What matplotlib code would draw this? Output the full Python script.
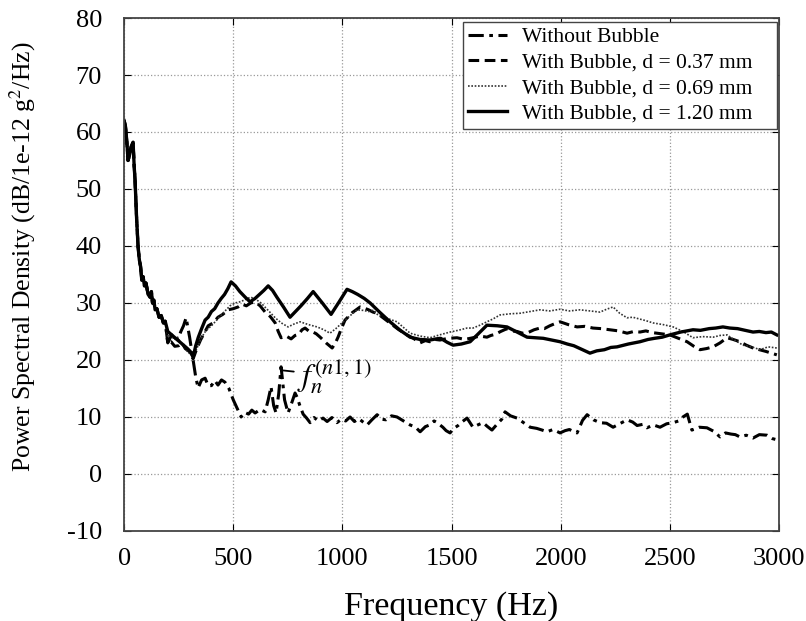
import numpy as np
import matplotlib.pyplot as plt

plt.rcParams['font.family'] = 'Liberation Serif'
plt.rcParams['mathtext.fontset'] = 'stix'
plt.rcParams['axes.unicode_minus'] = False

# shared low-frequency part (all curves start together)
f_start = [0, 6, 12, 18, 25, 33, 41, 46, 50, 57, 64, 70, 75, 81, 87, 93, 100, 110, 119, 125,
           130, 136, 142, 150, 160, 170, 180, 188]
p_start = [62, 61, 58.5, 55, 56, 57.5, 58.2, 54, 51.6, 45, 39.8, 37.5, 36.5, 34, 34.6, 33,
           33.5, 31.5, 31, 32, 30, 30.5, 28.8, 29, 27.5, 27.8, 26.5, 26.8]

# Without Bubble
f_wo = [200, 215, 230, 245, 260, 272, 284, 300, 316, 328, 339, 355, 371, 385, 400, 415, 430,
        446, 462, 480, 500, 518, 536, 553, 570, 585, 600, 623, 646, 660, 673, 685, 696, 708,
        719, 735, 751, 768, 783, 792, 805, 820, 836, 852, 870, 890, 911, 930, 952, 975, 995,
        1015, 1035, 1055, 1075, 1095, 1113, 1135, 1159, 1180, 1200, 1225, 1250, 1280, 1310,
        1335, 1356, 1380, 1400, 1420, 1434, 1460, 1475, 1493, 1510, 1530, 1550, 1571, 1598,
        1620, 1644, 1665, 1685, 1710, 1730, 1745, 1770, 1800, 1830, 1860, 1890, 1915, 1937,
        1965, 1997, 2020, 2040, 2060, 2075, 2100, 2121, 2150, 2180, 2210, 2240, 2270, 2304,
        2330, 2350, 2375, 2395, 2425, 2455, 2485, 2515, 2540, 2560, 2580, 2601, 2635, 2670,
        2700, 2730, 2755, 2780, 2800, 2821, 2850, 2881, 2910, 2945, 2970, 2990]
p_wo = [23, 24.2, 24.5, 23.5, 25, 26, 27.4, 24, 20, 17, 15.1, 16.5, 16.8, 15.5, 15.5, 16.4,
        15.6, 16.5, 16.1, 15, 13, 11.5, 10, 10.8, 10.5, 11.2, 10.7, 11.3, 10.9, 13, 15.3, 12,
        10.7, 14, 18.8, 13, 10.7, 12.5, 14.2, 13.5, 12, 10.5, 9.8, 9, 9.9, 9.3, 9.8, 9.2, 9.9,
        9, 9.6, 9.3, 10, 9.2, 9.7, 9.1, 8.6, 9.5, 10.4, 9.6, 9.5, 10.2, 10, 9.3, 8.6, 8.2, 7.4,
        8.3, 8.6, 9.3, 9, 8.2, 7.6, 7.2, 8, 8.5, 9.2, 9.8, 8.2, 8.6, 9, 8.3, 7.7, 8.8, 9.6,
        10.9, 10.2, 9.8, 9, 8.2, 8, 7.7, 7.4, 7.8, 7.2, 7.6, 7.8, 7.4, 7.2, 9.4, 10.4, 9.5, 9,
        8.9, 8.2, 8.8, 9.5, 9.1, 8.5, 8.7, 8.1, 8.6, 8.2, 8.8, 9, 9.3, 10, 10.5, 7.7, 8.2,
        8.1, 7.5, 6.5, 7.2, 7, 6.9, 6.5, 6.8, 6.3, 6.9, 6.8, 6.2, 6]

# With Bubble, d = 0.37 mm
f_037 = [200, 215, 232, 250, 265, 280, 298, 316, 333, 350, 368, 385, 408, 430, 452, 476, 500,
         522, 540, 560, 580, 600, 623, 646, 670, 692, 706, 719, 742, 765, 783, 800, 815, 829,
         845, 860, 880, 898, 925, 953, 968, 980, 995, 1012, 1045, 1081, 1100, 1120, 1140, 1159,
         1190, 1218, 1255, 1296, 1325, 1356, 1380, 1400, 1425, 1447, 1485, 1525, 1560, 1598,
         1630, 1662, 1680, 1700, 1725, 1754, 1775, 1800, 1825, 1850, 1878, 1905, 1925, 1950,
         1975, 1997, 2035, 2075, 2110, 2148, 2185, 2226, 2265, 2304, 2335, 2363, 2390, 2420,
         2460, 2500, 2540, 2579, 2610, 2638, 2668, 2698, 2730, 2762, 2790, 2821, 2850, 2881,
         2910, 2940, 2965, 2990]
p_037 = [23, 23.2, 22.4, 22.5, 23, 22, 21.5, 20.2, 22, 23.5, 24.8, 26, 26.5, 27.5, 28, 28.8, 29,
         29.3, 29.8, 29.5, 30, 30.2, 29.5, 28.4, 27.6, 26.5, 25, 23.9, 24.2, 23.7, 24.3, 24.5,
         25.3, 25.6, 25.1, 25, 24.6, 24, 23, 22.1, 23, 24, 25.5, 27, 28.3, 29.3, 29.1, 28.8,
         28.4, 28.2, 27.3, 26.5, 25.4, 24.4, 23.8, 23, 23.4, 23.2, 23.6, 23.5, 23.8, 23.9, 23.6,
         23.9, 24.2, 24, 24.3, 24.5, 25, 25.5, 25.1, 25, 24.7, 24.8, 25.3, 25.6, 25.5, 26,
         26.4, 26.7, 26.2, 25.8, 25.9, 25.6, 25.5, 25.3, 25.1, 24.7, 25, 24.9, 25.1, 24.8, 24.6,
         24.4, 23.8, 23.2, 22.4, 21.8, 22, 22.3, 23, 23.9, 23.6, 23.2, 22.6, 22.1, 21.8, 21.5,
         21.2, 20.9]

# With Bubble, d = 0.69 mm
f_069 = [200, 215, 230, 245, 260, 275, 290, 303, 316, 333, 350, 368, 385, 400, 417, 438, 460,
         485, 508, 530, 550, 565, 581, 605, 627, 660, 692, 720, 751, 778, 806, 845, 884, 915,
         943, 970, 998, 1030, 1067, 1095, 1120, 1140, 1160, 1205, 1250, 1280, 1310, 1355, 1401,
         1445, 1493, 1530, 1571, 1598, 1630, 1662, 1690, 1722, 1768, 1814, 1860, 1905, 1950,
         1997, 2040, 2088, 2135, 2180, 2210, 2240, 2270, 2304, 2330, 2360, 2390, 2423, 2470,
         2515, 2560, 2606, 2650, 2698, 2730, 2762, 2800, 2835, 2875, 2913, 2950, 2990]
p_069 = [24, 24.5, 23.5, 24, 23, 22.5, 21.5, 21, 20.5, 22, 23.5, 24.8, 25.5, 26, 26.7, 27.6,
         28.5, 29.5, 30, 30.2, 30.5, 30.8, 31, 30.6, 30, 28.7, 27.4, 26.5, 25.8, 26.3, 26.7,
         26.2, 25.8, 25.3, 24.7, 25.5, 26.5, 27.6, 28.8, 28.7, 28.5, 28.7, 28, 27.3, 26.7,
         25.7, 24.7, 24.2, 23.9, 24.4, 24.9, 25.2, 25.6, 25.6, 26.1, 26.7, 27.2, 27.9, 28.1,
         28.2, 28.5, 28.8, 28.6, 28.9, 28.6, 28.8, 28.6, 28.4, 28.9, 29.3, 28.2, 27.4, 27.5,
         27.2, 26.9, 26.5, 26.2, 25.8, 25, 23.9, 24.1, 24, 24.3, 24.4, 23.4, 22.6, 22.3, 21.8,
         22.3, 22.1]

# With Bubble, d = 1.20 mm
f_120 = [200, 215, 230, 245, 260, 275, 290, 303, 316, 328, 340, 355, 371, 385, 400, 415, 430,
         445, 460, 475, 490, 510, 530, 555, 577, 600, 620, 640, 660, 680, 700, 730, 760, 785,
         810, 840, 866, 908, 948, 985, 1021, 1045, 1070, 1100, 1127, 1170, 1218, 1265, 1310,
         1355, 1401, 1430, 1450, 1480, 1507, 1545, 1585, 1620, 1662, 1710, 1754, 1800, 1846,
         1920, 1997, 2030, 2060, 2100, 2134, 2165, 2200, 2230, 2258, 2310, 2363, 2400, 2430,
         2465, 2500, 2550, 2606, 2640, 2680, 2710, 2743, 2775, 2810, 2845, 2881, 2910, 2940,
         2965, 2990]
p_120 = [25, 24.5, 24, 23.5, 23, 22.5, 22, 21.5, 20.5, 22.5, 24, 25.5, 27, 27.5, 28.5, 29, 30,
         30.8, 31.5, 32.5, 33.7, 33, 32, 31, 30.2, 30.8, 31.5, 32.2, 33, 32.2, 31, 29.3, 27.5,
         28.5, 29.5, 30.8, 32, 30, 28, 30.2, 32.4, 32, 31.5, 30.8, 30, 28.4, 26.7, 25.2, 24,
         23.6, 23.5, 23.7, 23.8, 23.1, 22.6, 22.8, 23.2, 24.5, 26.1, 26, 25.8, 24.9, 24, 23.8,
         23.2, 22.8, 22.5, 21.8, 21.2, 21.6, 21.8, 22.2, 22.3, 22.8, 23.2, 23.6, 23.8, 24,
         24.4, 24.9, 25.3, 25.2, 25.5, 25.6, 25.8, 25.6, 25.5, 25.2, 24.9, 25, 24.8, 24.9, 24.4]

fig, ax = plt.subplots(figsize=(8.06, 6.21), dpi=100)
fig.subplots_adjust(left=0.154, right=0.9665, top=0.971, bottom=0.145)

k = 'black'
ax.plot(f_start + f_wo, p_start + p_wo, color=k, lw=2.2, linestyle=(0, (5, 1.8, 1.2, 1.8)),
        label='Without Bubble')
ax.plot(f_start + f_037, p_start + p_037, color=k, lw=2.2, linestyle=(0, (3.5, 1.8)),
        label='With Bubble, d = 0.37 mm')
ax.plot(f_start + f_069, p_start + p_069, color='#333333', lw=1.2, linestyle=(0, (1, 1)),
        label='With Bubble, d = 0.69 mm')
ax.plot(f_start + f_120, p_start + p_120, color=k, lw=2.4, linestyle='-',
        label='With Bubble, d = 1.20 mm')

ax.annotate(r'$f_n^{(n1,1)}$', xy=(719, 18.2), xytext=(790, 17.2),
            fontsize=23, va='center', ha='left',
            arrowprops=dict(arrowstyle='-', color=k, lw=1.3, shrinkA=0, shrinkB=0))

ax.set_xlim(0, 3000)
ax.set_ylim(-10, 80)
ax.set_xticks(np.arange(0, 3001, 500))
ax.set_yticks(np.arange(-10, 81, 10))
ax.grid(True, color='#999999', linestyle=':', lw=0.9)
ax.tick_params(direction='in', top=True, right=True, labelsize=19, length=5)
ax.tick_params(axis='x', pad=12)
ax.tick_params(axis='y', pad=16)
for s in ax.spines.values():
    s.set_color('#444444')
    s.set_linewidth(1.3)

ax.set_xlabel('Frequency (Hz)', fontsize=24.5)
ax.xaxis.set_label_coords(0.5, -0.117)
ax.set_ylabel('Power Spectral Density (dB/1e-12 g$^2$/Hz)', fontsize=18.5)
ax.yaxis.set_label_coords(-0.131, 0.535)

leg = ax.legend(loc='upper right', fontsize=15.5, fancybox=False, framealpha=1,
                edgecolor='#444444', handlelength=1.8, handletextpad=0.7,
                bbox_to_anchor=(0.5176, 0.7856, 0.4794, 0.2066), mode='expand',
                borderaxespad=0, labelspacing=0.25, borderpad=0.25)
leg.get_frame().set_linewidth(1.0)

fig.savefig('out.png')
